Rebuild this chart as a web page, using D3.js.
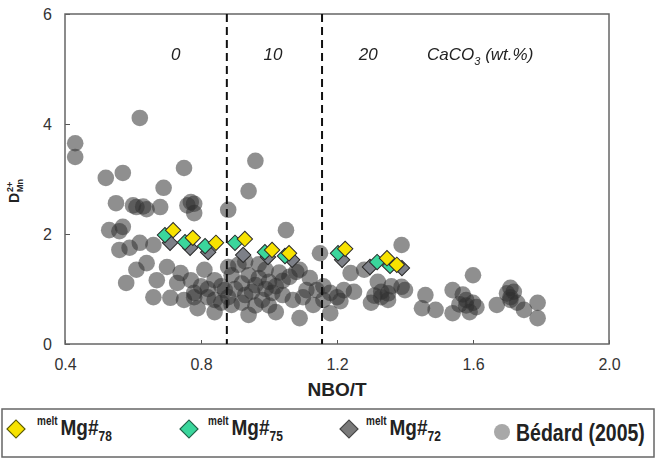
<!DOCTYPE html>
<html>
<head>
<meta charset="utf-8">
<script src="https://cdnjs.cloudflare.com/ajax/libs/d3/7.8.5/d3.min.js"></script>
<style>
  body { margin: 0; background: #fff; }
  text { font-family: "Liberation Sans", Arial, sans-serif; fill: #222; }
</style>
</head>
<body>
<script>
// Bedard (2005) compilation, [NBO/T, D Mn]
var bedard = [
  [0.62, 4.11], [0.43, 3.65], [0.43, 3.40], [0.52, 3.02], [0.57, 3.11],
  [0.75, 3.20], [0.69, 2.84], [0.96, 3.33], [0.94, 2.78], [0.88, 2.44],
  [0.55, 2.56], [0.61, 2.49], [0.64, 2.45], [0.68, 2.49], [0.77, 2.58],
  [0.78, 2.38], [0.53, 2.07], [0.57, 2.13], [0.56, 1.71], [0.62, 1.84],
  [0.66, 1.80], [0.61, 1.35], [0.64, 1.47], [0.58, 1.11], [0.67, 1.16],
  [0.66, 0.85], [0.71, 0.84], [0.70, 1.40], [0.74, 1.29], [0.73, 1.11],
  [0.77, 1.16], [0.78, 0.93], [0.82, 0.85], [0.84, 0.80], [1.05, 2.07],
  [1.09, 1.35], [1.06, 1.22], [1.15, 1.65], [1.39, 1.80], [1.24, 1.29],
  [1.28, 1.35], [1.32, 1.13], [1.33, 0.85], [1.30, 0.75], [1.35, 0.80],
  [1.39, 1.04], [1.46, 0.89], [1.45, 0.65], [1.49, 0.62], [1.54, 0.98],
  [1.60, 1.25], [1.58, 0.80], [1.54, 0.56], [1.59, 0.58], [1.61, 0.67],
  [1.67, 0.71], [1.71, 1.02], [1.71, 0.80], [1.75, 0.62], [1.79, 0.75],
  [1.79, 0.47], [1.18, 0.93], [1.22, 0.98], [1.18, 0.56], [1.40, 0.98],
  [1.14, 0.98], [1.01, 0.93], [1.07, 0.80], [0.99, 1.35], [1.08, 1.31],
  [0.81, 1.35], [0.84, 1.16], [0.87, 0.98], [0.89, 1.25], [0.91, 1.44],
  [0.94, 1.25], [0.93, 0.89], [0.96, 1.07], [0.98, 0.80], [1.00, 1.13],
  [1.04, 0.89], [1.11, 0.98], [1.13, 0.71], [0.89, 0.71], [0.84, 0.58],
  [0.94, 0.53], [1.02, 0.58], [1.09, 0.47], [0.79, 0.65], [0.75, 0.80],
  [0.86, 1.05], [0.88, 0.85], [0.90, 1.00], [0.92, 1.10], [0.95, 0.95],
  [0.97, 1.20], [0.99, 1.00], [1.02, 1.05], [1.04, 1.15], [0.92, 0.75],
  [0.96, 0.70], [1.00, 0.70], [0.86, 0.75], [0.82, 1.00], [0.80, 1.05],
  [0.78, 0.85], [0.88, 1.40], [0.93, 1.50], [0.97, 1.45], [1.03, 1.30],
  [1.10, 0.85], [1.16, 0.80], [1.20, 0.85], [1.16, 1.05], [1.12, 1.20],
  [0.60, 2.52], [0.63, 2.50], [0.76, 2.52], [0.78, 2.55], [0.56, 2.05],
  [0.59, 1.75], [1.33, 0.95], [1.31, 0.88], [1.35, 0.92], [1.36, 1.05],
  [1.56, 0.72], [1.58, 0.70], [1.60, 0.75], [1.57, 0.90], [1.70, 0.92],
  [1.72, 0.95], [1.71, 0.85], [1.73, 0.75], [1.25, 0.95], [1.21, 0.78]
];

// this study, three melt Mg# series
var mg72 = [
  [0.709, 1.84], [0.768, 1.75], [0.821, 1.67], [0.924, 1.62], [0.997, 1.58],
  [1.068, 1.53], [1.215, 1.53], [1.297, 1.40], [1.391, 1.38]
];
var mg75 = [
  [0.694, 1.98], [0.753, 1.85], [0.812, 1.78], [0.900, 1.84], [0.988, 1.67],
  [1.047, 1.60], [1.203, 1.65], [1.318, 1.49], [1.356, 1.42]
];
var mg78 = [
  [0.718, 2.07], [0.776, 1.93], [0.844, 1.84], [0.929, 1.91], [1.009, 1.71],
  [1.059, 1.65], [1.224, 1.73], [1.347, 1.56], [1.376, 1.44]
];

var xTicks = [0.4, 0.8, 1.2, 1.6, 2.0];
var yTicks = [0, 2, 4, 6];

// CaCO3 boundaries and the labels between them
var dividers = [0.876, 1.156];
var zoneLabels = [
  {x: 0.726, text: "0"},
  {x: 1.012, text: "10"},
  {x: 1.292, text: "20"}
];

var margin = {top: 14, right: 50, bottom: 115, left: 65},
    width = 659 - margin.left - margin.right,
    height = 459 - margin.top - margin.bottom;

var svg = d3.select("body")
            .append("svg")
            .attr("width", 659)
            .attr("height", 459);

var defs = svg.append("defs");
defs.append("filter")
    .attr("id", "soft")
    .append("feGaussianBlur")
    .attr("stdDeviation", 0.7);

var g = svg.append("g")
           .attr("transform", "translate(" + margin.left + "," + margin.top + ")");

var x = d3.scaleLinear().domain([0.4, 2.0]).range([0, width]);
var y = d3.scaleLinear().domain([0, 6]).range([height, 0]);

// axes, ticks pointing inwards
g.append("g")
 .attr("class", "x axis")
 .attr("transform", "translate(0," + height + ")")
 .call(d3.axisBottom(x).tickValues(xTicks).tickFormat(d3.format(".1f"))
        .tickSizeInner(-4).tickSizeOuter(0).tickPadding(15));

g.append("g")
 .attr("class", "y axis")
 .call(d3.axisLeft(y).tickValues(yTicks).tickFormat(d3.format("d"))
        .tickSizeInner(-5).tickSizeOuter(0).tickPadding(13));

g.selectAll(".axis text")
 .style("font-size", "16px")
 .style("fill", "#333");
g.selectAll(".axis line").attr("stroke", "#555");
g.selectAll(".axis .domain").remove();

// frame
g.append("rect")
 .attr("width", width)
 .attr("height", height)
 .attr("fill", "none")
 .attr("stroke", "#666")
 .attr("stroke-width", 1.5);

// Bedard points
g.append("g")
 .attr("filter", "url(#soft)")
 .selectAll("circle")
 .data(bedard)
 .enter().append("circle")
 .attr("cx", function(d) { return x(d[0]); })
 .attr("cy", function(d) { return y(d[1]); })
 .attr("r", 8.3)
 .style("fill", "#303030")
 .style("opacity", 0.54);

// dashed boundaries
g.selectAll(".divider")
 .data(dividers)
 .enter().append("line")
 .attr("class", "divider")
 .attr("x1", function(d) { return x(d); })
 .attr("x2", function(d) { return x(d); })
 .attr("y1", 0)
 .attr("y2", height)
 .attr("stroke", "#111")
 .attr("stroke-width", 2)
 .attr("stroke-dasharray", "8,5");

g.selectAll(".zone")
 .data(zoneLabels)
 .enter().append("text")
 .attr("class", "zone")
 .attr("x", function(d) { return x(d.x); })
 .attr("y", 46)
 .attr("text-anchor", "middle")
 .style("font-size", "17px")
 .style("font-style", "italic")
 .text(function(d) { return d.text; });

var caco3 = g.append("text")
             .attr("x", x(1.465))
             .attr("y", 46)
             .style("font-size", "17px")
             .style("font-style", "italic");
caco3.append("tspan").text("CaCO");
caco3.append("tspan").attr("dy", 5).style("font-size", "11px").text("3");
caco3.append("tspan").attr("dy", -5).text(" (wt.%)");

// diamonds
var diamond = d3.symbol().type(d3.symbolSquare).size(118);

function drawDiamonds(data, fill) {
  g.append("g")
   .selectAll("path")
   .data(data)
   .enter().append("path")
   .attr("d", diamond)
   .attr("transform", function(d) {
     return "translate(" + x(d[0]) + "," + y(d[1]) + ") rotate(45)";
   })
   .style("fill", fill)
   .style("stroke", "#2b2b2b")
   .style("stroke-width", 1);
}
drawDiamonds(mg72, "#7d8088");
drawDiamonds(mg75, "#3ad69c");
drawDiamonds(mg78, "#f7e200");

// axis titles
svg.append("text")
   .attr("x", margin.left + width / 2)
   .attr("y", 396)
   .attr("text-anchor", "middle")
   .style("font-size", "19px")
   .style("font-weight", "bold")
   .text("NBO/T");

var yt = svg.append("g").attr("transform", "translate(19,203) rotate(-90)");
yt.append("text").attr("x", 0).attr("y", 0)
  .style("font-size", "14px").style("font-weight", "bold").text("D");
yt.append("text").attr("x", 11).attr("y", -6)
  .style("font-size", "9px").style("font-weight", "bold").text("2+");
yt.append("text").attr("x", 11).attr("y", 4)
  .style("font-size", "9px").style("font-weight", "bold").text("Mn");

// legend
svg.append("rect")
   .attr("x", 2)
   .attr("y", 409)
   .attr("width", 652)
   .attr("height", 48)
   .attr("fill", "none")
   .attr("stroke", "#666")
   .attr("stroke-width", 1.5);

var legendItems = [
  {cx: 16, tx: 37, sub: "78", fill: "#f7e200", stroke: "#5a5a00"},
  {cx: 189, tx: 208, sub: "75", fill: "#3ad69c", stroke: "#1f5f47"},
  {cx: 349, tx: 366, sub: "72", fill: "#7a7a7a", stroke: "#444"}
];

var legendDiamond = d3.symbol().type(d3.symbolSquare).size(162);

legendItems.forEach(function(d) {
  svg.append("path")
     .attr("d", legendDiamond)
     .attr("transform", "translate(" + d.cx + ",429) rotate(45)")
     .style("fill", d.fill)
     .style("stroke", d.stroke)
     .style("stroke-width", 1.2);

  var t = svg.append("g")
             .attr("transform", "translate(" + d.tx + ",435) scale(1,1.2)")
             .append("text")
             .style("font-weight", "bold");
  t.append("tspan").attr("dy", -8).style("font-size", "10px").text("melt");
  t.append("tspan").attr("dy", 8).attr("dx", 3).style("font-size", "19px").text("Mg#");
  t.append("tspan").attr("dy", 5).style("font-size", "12px").text(d.sub);
});

svg.append("circle")
   .attr("cx", 502)
   .attr("cy", 432)
   .attr("r", 8)
   .attr("filter", "url(#soft)")
   .style("fill", "#a8a8a8");

svg.append("g")
   .attr("transform", "translate(516,441) scale(1,1.2)")
   .append("text")
   .style("font-size", "19.5px")
   .style("font-weight", "bold")
   .text("Bédard (2005)");
</script>
</body>
</html>
